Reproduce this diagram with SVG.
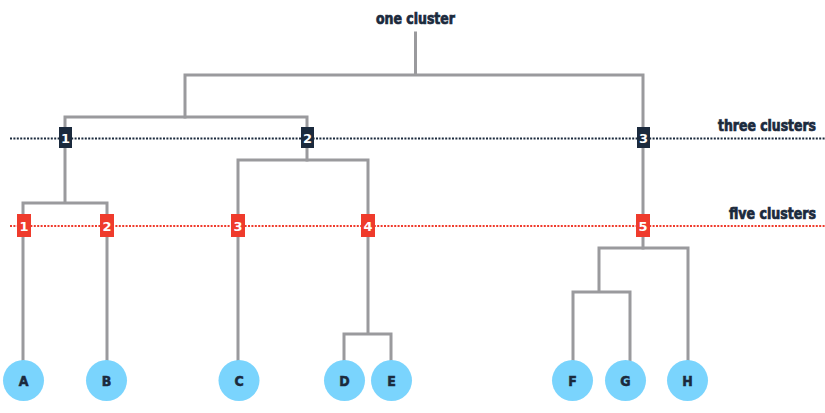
<svg xmlns="http://www.w3.org/2000/svg" width="825" height="413" viewBox="0 0 825 413">
<style>
.ln{fill:none;stroke:#9a9a9d;stroke-width:3;stroke-linejoin:miter;stroke-linecap:square}
.dotk{stroke:#1b2a3d;stroke-width:2;stroke-dasharray:2 1.4}
.dotr{stroke:#ef3b2c;stroke-width:2;stroke-dasharray:2 1.4}
.lbl{font-family:"DejaVu Sans",sans-serif;font-weight:bold;font-stretch:condensed;fill:#1b2a3d;stroke:#1b2a3d;stroke-width:0.7;font-size:15px}
.leaf circle{fill:#7ad4fd}
.leaf text{font-family:"DejaVu Sans",sans-serif;font-weight:bold;font-stretch:condensed;fill:#1b2a3d;stroke:#1b2a3d;stroke-width:0.5;font-size:14px;text-anchor:middle}
.bk rect{fill:#1b2a3d}
.br rect{fill:#ef3b2c}
.bk text,.br text{font-family:"DejaVu Sans",sans-serif;font-weight:bold;fill:#fff;font-size:13px;text-anchor:middle}
</style>
<rect width="825" height="413" fill="#fff"/>
<g id="cut-lines">
<line class="dotk" x1="10" y1="138.5" x2="825" y2="138.5"/>
<line class="dotr" x1="10" y1="226" x2="825" y2="226"/>
</g>
<g id="connectors">
<path class="ln" d="M415.5 33V75M185 117V75H643V248"/>
<path class="ln" d="M65 138V117H307V160"/>
<path class="ln" d="M65 138V203M23 360V203H107V360"/>
<path class="ln" d="M238 360V160H368V334M344 360V334H391V360"/>
<path class="ln" d="M599 292V248H688V360M573 360V292H630V360"/>
</g>
<g id="labels">
<text class="lbl" x="376" y="24" textLength="79" lengthAdjust="spacingAndGlyphs">one cluster</text>
<text class="lbl" x="718" y="131" textLength="98" lengthAdjust="spacingAndGlyphs">three clusters</text>
<text class="lbl" x="729" y="219" textLength="87" lengthAdjust="spacingAndGlyphs">five clusters</text>
</g>
<g id="badge-k1" class="bk"><rect x="59" y="127" width="13" height="21"/><text x="65.5" y="143">1</text></g>
<g id="badge-k2" class="bk"><rect x="301" y="127" width="13" height="21"/><text x="307.5" y="143">2</text></g>
<g id="badge-k3" class="bk"><rect x="637" y="127" width="13" height="21"/><text x="643.5" y="143">3</text></g>
<g id="badge-r1" class="br"><rect x="17" y="214" width="14" height="23"/><text x="24" y="230.5">1</text></g>
<g id="badge-r2" class="br"><rect x="100" y="214" width="14" height="23"/><text x="107" y="230.5">2</text></g>
<g id="badge-r3" class="br"><rect x="231" y="214" width="14" height="23"/><text x="238" y="230.5">3</text></g>
<g id="badge-r4" class="br"><rect x="361" y="214" width="14" height="23"/><text x="368" y="230.5">4</text></g>
<g id="badge-r5" class="br"><rect x="636" y="214" width="14" height="23"/><text x="643" y="230.5">5</text></g>
<g id="node-A" class="leaf"><circle cx="23.5" cy="380.5" r="20.5"/><text x="23.5" y="386">A</text></g>
<g id="node-B" class="leaf"><circle cx="106.5" cy="380.5" r="20.5"/><text x="106.5" y="386">B</text></g>
<g id="node-C" class="leaf"><circle cx="239" cy="380.5" r="20.5"/><text x="239" y="386">C</text></g>
<g id="node-D" class="leaf"><circle cx="344.5" cy="380.5" r="20.5"/><text x="344.5" y="386">D</text></g>
<g id="node-E" class="leaf"><circle cx="391.5" cy="380.5" r="20.5"/><text x="391.5" y="386">E</text></g>
<g id="node-F" class="leaf"><circle cx="572.5" cy="380.5" r="20.5"/><text x="572.5" y="386">F</text></g>
<g id="node-G" class="leaf"><circle cx="625.5" cy="380.5" r="20.5"/><text x="625.5" y="386">G</text></g>
<g id="node-H" class="leaf"><circle cx="687.5" cy="380.5" r="20.5"/><text x="687.5" y="386">H</text></g>
</svg>
